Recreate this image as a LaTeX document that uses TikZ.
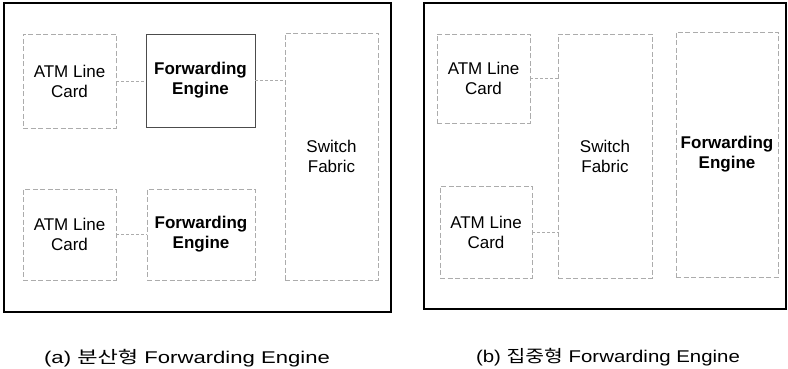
\documentclass[tikz,border=0pt]{standalone}
\usepackage{fontspec}
\setmainfont{Liberation Sans}
\newfontfamily\kr{Noto Sans CJK KR}
\begin{document}
\begin{tikzpicture}[x=1pt,y=-1pt,
  frame/.style={draw=black,line width=1.3pt},
  faintbox/.style={draw=gray!65,line width=0.6pt,dash pattern=on 5pt off 2.5pt,rectangle,inner sep=0pt,align=center,font=\fontsize{17}{20}\selectfont},
  solidbox/.style={draw=gray!60!black,line width=0.7pt,rectangle,inner sep=0pt,align=center,font=\fontsize{17}{20}\selectfont},
  fetext/.style={font=\fontsize{17}{20}\selectfont\bfseries},
  conn/.style={draw=gray!65,line width=0.6pt,dash pattern=on 3pt off 2pt},
  captext/.style={font=\fontsize{17}{20}\selectfont,inner sep=0pt}]
\useasboundingbox (0,0) rectangle (788,369);
% panel (a)
\draw[frame] (4,3) rectangle (391,312);
\node[faintbox,minimum width=93pt,minimum height=94pt] (atm1) at (69.5,81) {ATM Line\\Card};
\node[solidbox,minimum width=109pt,minimum height=93pt,fetext] (fe1) at (200.5,80.5) {Forwarding\\Engine};
\node[faintbox,minimum width=93pt,minimum height=247pt] (sf1) at (331.5,156.5) {Switch\\Fabric};
\node[faintbox,minimum width=93pt,minimum height=91pt] (atm2) at (69.5,234.5) {ATM Line\\Card};
\node[faintbox,minimum width=108pt,minimum height=91pt,fetext] (fe2) at (201,234.5) {Forwarding\\Engine};
\draw[conn] (atm1.east) -- (atm1.east -| fe1.west);
\draw[conn] (fe1.east) -- (fe1.east -| sf1.west);
\draw[conn] (atm2.east) -- (atm2.east -| fe2.west);
\node[captext] (capa) at (187,358) {\scalebox{1.3}[1]{(a) {\kr 분산형} Forwarding Engine}};
% panel (b)
\draw[frame] (424,3) rectangle (786,309);
\node[faintbox,minimum width=93pt,minimum height=89pt] (atm3) at (483.5,78.5) {ATM Line\\Card};
\node[faintbox,minimum width=94pt,minimum height=244pt] (sf2) at (605,156) {Switch\\Fabric};
\node[faintbox,minimum width=92pt,minimum height=92pt] (atm4) at (486,232) {ATM Line\\Card};
\node[faintbox,minimum width=102pt,minimum height=245pt,fetext] (fe3) at (727,154.5) {Forwarding\\Engine};
\draw[conn] (atm3.east) -- (atm3.east -| sf2.west);
\draw[conn] (atm4.east) -- (atm4.east -| sf2.west);
\node[captext] (capb) at (608,357) {\scalebox{1.2}[1]{(b) {\kr 집중형} Forwarding Engine}};
\end{tikzpicture}
\end{document}
